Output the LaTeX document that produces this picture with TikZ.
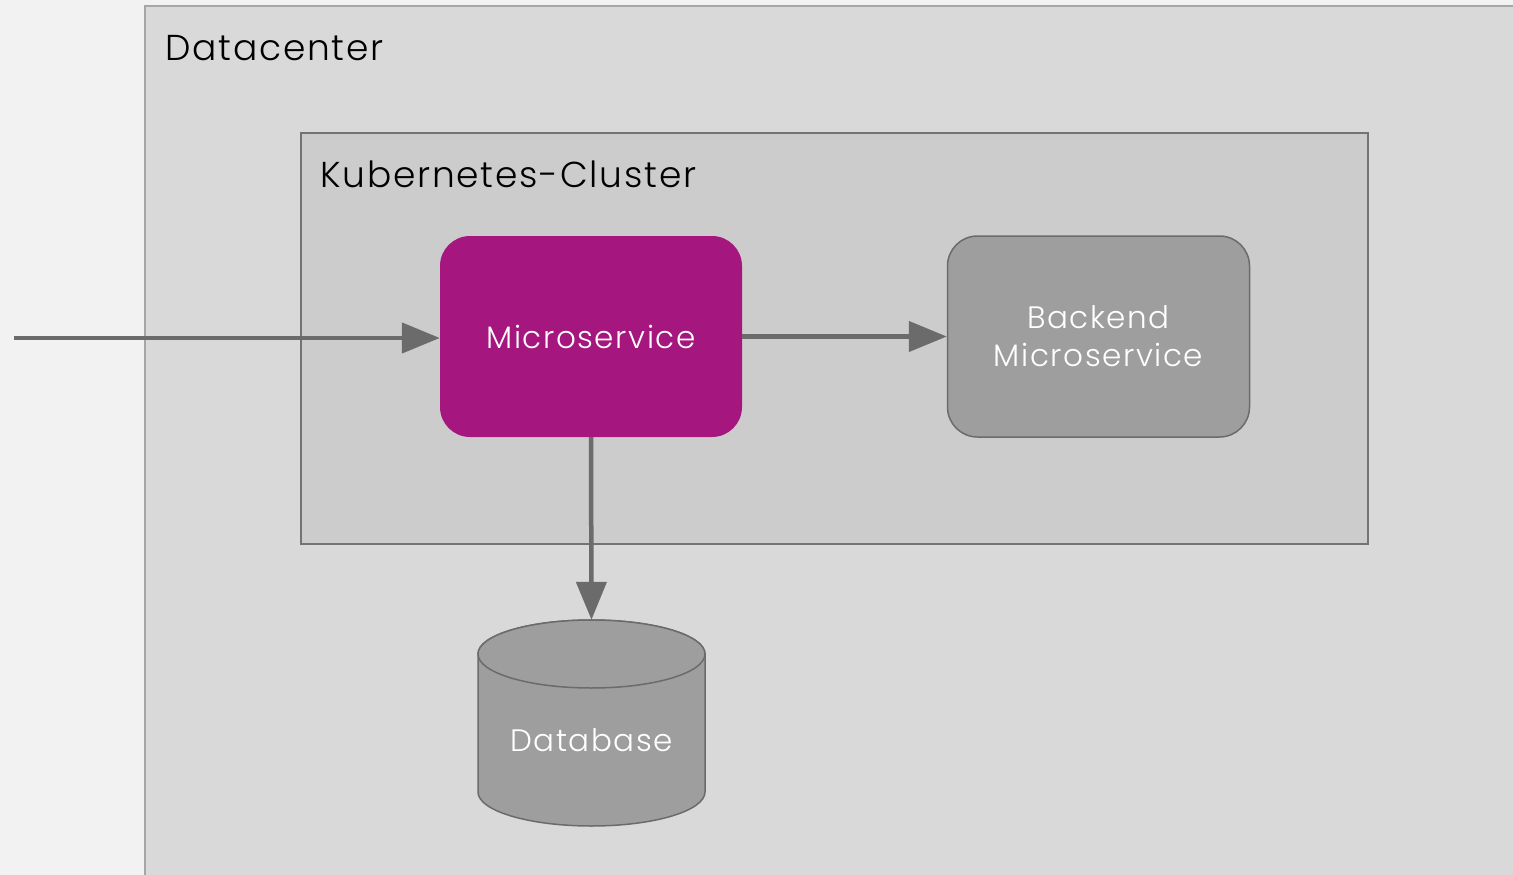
\documentclass[tikz,border=0pt]{standalone}
\usepackage{fontspec}
\setmainfont{Poppins}[UprightFont=* Light, LetterSpace=5]
\usetikzlibrary{arrows.meta}
\definecolor{bgc}{HTML}{F2F2F2}
\definecolor{dcfill}{HTML}{D9D9D9}
\definecolor{dcline}{HTML}{A6A6A6}
\definecolor{kfill}{HTML}{CCCCCC}
\definecolor{kline}{HTML}{737373}
\definecolor{msfill}{HTML}{A5167F}
\definecolor{gfill}{HTML}{9E9E9E}
\definecolor{gline}{HTML}{6B6B6B}
\tikzset{
  conn/.style={draw=gline, line width=4.5pt, -{Triangle[length=38pt,width=30pt]}},
  title/.style={anchor=base west, font=\fontsize{36}{40}\selectfont, text=black, inner sep=0pt},
  lbl/.style={font=\fontsize{31}{36}\selectfont, text=white, align=center},
}
\begin{document}
\begin{tikzpicture}[x=1pt,y=-1pt]
\useasboundingbox (0,0) rectangle (1513,875);
\fill[bgc] (0,0) rectangle (1513,875);
\draw[fill=dcfill, draw=dcline, line width=1.5pt] (145,6) rectangle (1530,890);
\node[title] (dctitle) at (165,61) {Datacenter};
\draw[fill=kfill, draw=kline, line width=1.5pt] (301,133) rectangle (1368,544);
\node[title] (ktitle) at (320,187) {Kubernetes-Cluster};
\node[fill=msfill, rounded corners=30pt, minimum width=302pt, minimum height=201pt, inner sep=0pt, lbl] (ms) at (591,336.5) {Microservice};
\node[fill=gfill, draw=gline, line width=1.5pt, rounded corners=30pt, minimum width=302pt, minimum height=201pt, inner sep=0pt, lbl] (be) at (1098.5,336.5) {Backend\\[2pt]Microservice};
% database cylinder
\draw[fill=gfill, draw=gline, line width=1.5pt] (478,654) -- (478,792) arc[start angle=180, end angle=360, x radius=113.5, y radius=-34] -- (705,654) arc[start angle=0, end angle=180, x radius=113.5, y radius=-34] -- cycle;
\draw[fill=gfill, draw=gline, line width=1.5pt] (591.5,654) ellipse[x radius=113.5, y radius=34];
\node[lbl, minimum width=227pt, minimum height=206pt, inner sep=0pt, text depth=0pt] (db) at (591.5,723) {};
\node[lbl] (dbl) at (591.5,740) {Database};
\coordinate (src) at (14,338);
\draw[conn] (src) -- (ms.west |- src);
\draw[conn] (ms.east) -- (be.west);
\draw[conn] (ms.south) -- (db.north);
\end{tikzpicture}
\end{document}
